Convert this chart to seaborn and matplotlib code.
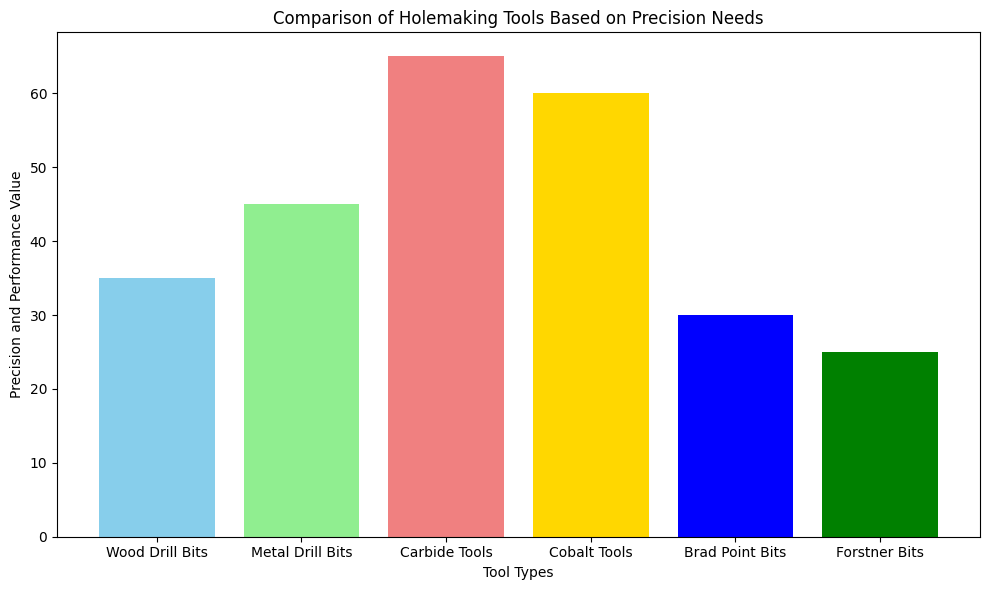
import matplotlib
matplotlib.use("Agg")
import matplotlib.pyplot as plt
import seaborn as sns
import pandas as pd

# data
tools = ['Wood Drill Bits', 'Metal Drill Bits', 'Carbide Tools',
         'Cobalt Tools', 'Brad Point Bits', 'Forstner Bits']
values = [35, 45, 65, 60, 30, 25]
colors = ['skyblue', 'lightgreen', 'lightcoral', 'gold', 'blue', 'green']

df = pd.DataFrame({'tool': tools, 'value': values})

fig, ax = plt.subplots(figsize=(10, 6), dpi=100)
sns.barplot(data=df, x='tool', y='value', hue='tool', palette=colors,
            legend=False, width=0.8, saturation=1, ax=ax)

ax.set_title('Comparison of Holemaking Tools Based on Precision Needs')
ax.set_xlabel('Tool Types')
ax.set_ylabel('Precision and Performance Value')
# same padding as plain matplotlib bars (5% of the bar span)
span = len(tools) - 1 + 0.8
ax.set_xlim(-0.4 - 0.05 * span, len(tools) - 1 + 0.4 + 0.05 * span)

plt.tight_layout()
plt.savefig('out.png', dpi=100, bbox_inches='tight')
